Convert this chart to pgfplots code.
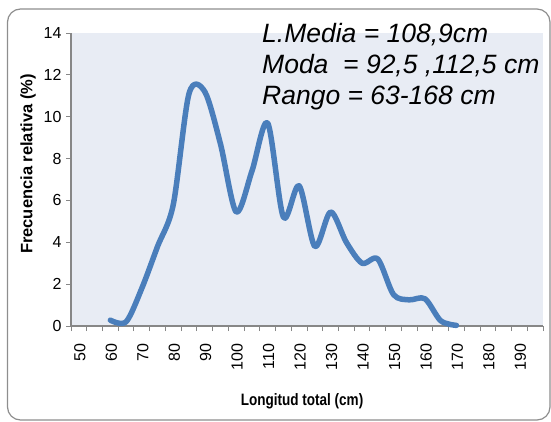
\documentclass[border=0pt]{standalone}
\usepackage{fontspec}
\setmainfont{Liberation Sans}
\usepackage{pgfplots}
\pgfplotsset{compat=1.18}
\definecolor{linecol}{HTML}{4A7EBB}
\definecolor{bgcol}{HTML}{E8ECF4}
\definecolor{axcol}{HTML}{878787}
\definecolor{framecol}{HTML}{8E8E8E}
\begin{document}
\begin{tikzpicture}[x=1pt,y=1pt]
\useasboundingbox (0,0) rectangle (551,421);
\draw[framecol, line width=1.2pt, rounded corners=13pt] (7.5,1) rectangle (550,412);
\begin{axis}[
  at={(71pt,95pt)}, anchor=south west,
  width=472pt, height=293pt, scale only axis,
  xmin=47.5, xmax=197.5, ymin=0, ymax=14,
  axis background/.style={fill=bgcol},
  axis x line*=bottom, axis y line*=left,
  axis line style={axcol, line width=1.3pt},
  tick align=outside,
  tick style={axcol, line width=1pt},
  major tick length=5pt,
  xtick={47.5,52.5,...,197.6},
  xticklabels={},
  extra x ticks={50,60,...,190},
  extra x tick style={major tick length=0pt},
  xticklabel style={rotate=90, anchor=east, xshift=-14pt, yshift=-1pt},
  ytick={0,2,...,14},
  yticklabel style={xshift=-1pt},
  /pgf/number format/assume math mode=true,
  tick label style={font=\fontsize{16}{19}\selectfont},
  clip=false,
]
\addplot[linecol, line width=5.5pt, smooth, tension=0.5, line cap=round, line join=round] coordinates {
(60,0.28) (65,0.2) (70,1.8) (75,3.8) (80,5.8) (85,11.1) (90,11.2) (95,8.7)
(100,5.45) (105,7.4) (110,9.7) (115,5.2) (120,6.7) (125,3.8) (130,5.45)
(135,4.0) (140,3.0) (145,3.2) (150,1.5) (155,1.25) (160,1.3) (165,0.25) (170,0.03)
};
\end{axis}
\node[anchor=base west, font=\fontsize{26.5}{31}\selectfont\itshape, inner sep=0pt] at (262,378) {L.Media = 108,9cm};
\node[anchor=base west, font=\fontsize{26.5}{31}\selectfont\itshape, inner sep=0pt] at (262,347) {Moda\ \ = 92,5 ,112,5 cm};
\node[anchor=base west, font=\fontsize{26.5}{31}\selectfont\itshape, inner sep=0pt] at (262,316) {Rango = 63-168 cm};
\node[rotate=90, font=\fontsize{16.5}{19}\selectfont\bfseries, inner sep=0pt] at (28,257) {Frecuencia relativa (\%)};
\node[font=\fontsize{16.5}{19}\selectfont\bfseries, inner sep=0pt] at (302,19.5) {\scalebox{0.82}[1]{Longitud total (cm)}};
\end{tikzpicture}
\end{document}
